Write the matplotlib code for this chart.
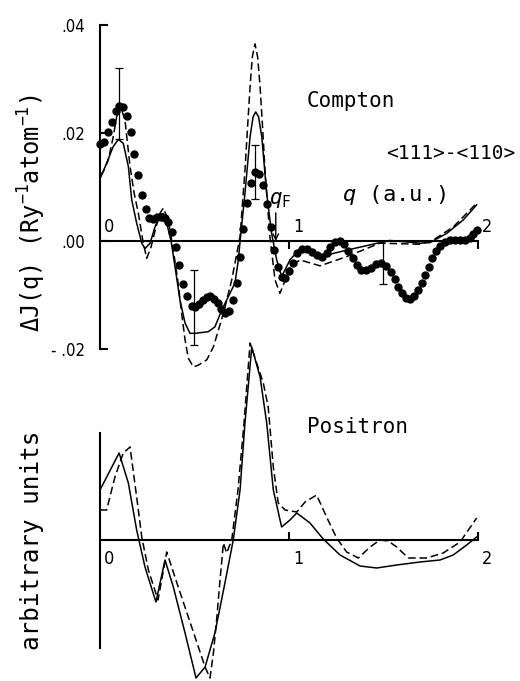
import numpy as np
import matplotlib
matplotlib.use("Agg")
import matplotlib.pyplot as plt
from matplotlib import font_manager

# Compton profile anisotropy <111>-<110>, units 1e-3 Ry^-1 atom^-1
dot_q = [0.000, 0.021, 0.041, 0.062, 0.083, 0.101, 0.123, 0.141, 0.162, 0.181,
         0.199, 0.221, 0.242, 0.261, 0.282, 0.303, 0.324, 0.346, 0.361, 0.379,
         0.401, 0.420, 0.441, 0.462, 0.485, 0.503, 0.524, 0.543, 0.565, 0.582,
         0.603, 0.623, 0.640, 0.661, 0.683, 0.702, 0.723, 0.741, 0.758, 0.776,
         0.797, 0.820, 0.841, 0.864, 0.882, 0.905, 0.922, 0.943, 0.961, 0.979,
         1.000, 1.021, 1.042, 1.069, 1.095, 1.122, 1.148, 1.175, 1.201, 1.217,
         1.243, 1.270, 1.291, 1.312, 1.339, 1.360, 1.381, 1.407, 1.434, 1.460,
         1.487, 1.513, 1.540, 1.561, 1.577, 1.598, 1.619, 1.640, 1.661, 1.683,
         1.704, 1.720, 1.741, 1.757, 1.778, 1.799, 1.825, 1.852, 1.878, 1.905,
         1.931, 1.958, 1.974, 1.995]
dot_dj = [18.0, 18.4, 20.1, 22.1, 24.1, 25.0, 24.9, 23.1, 20.1, 16.2,
          12.2, 8.5, 5.9, 4.2, 4.0, 4.4, 4.5, 4.2, 3.6, 1.7,
          -1.2, -4.5, -7.9, -10.2, -12.0, -12.2, -11.7, -10.9, -10.3, -10.1,
          -10.7, -11.5, -12.6, -13.4, -13.0, -10.9, -7.7, -2.9, 2.2, 7.0,
          10.7, 12.8, 12.4, 10.4, 6.9, 2.6, -1.7, -4.8, -6.6, -6.9,
          -5.6, -4.1, -2.2, -1.5, -1.5, -2.0, -2.6, -3.0, -2.2, -1.1,
          -0.2, 0.0, -0.6, -1.9, -3.1, -4.4, -5.4, -5.4, -5.0, -4.3,
          -4.1, -4.6, -5.7, -7.0, -8.5, -9.6, -10.6, -10.7, -10.2, -9.1,
          -7.8, -6.3, -4.8, -3.1, -1.9, -0.9, -0.2, 0.2, 0.2, 0.2,
          0.2, 0.6, 1.3, 2.0]

eb_q = [0.101, 0.499, 0.820, 1.499]
eb_dj = [25.4, -12.3, 12.8, -4.0]
eb_err = [6.6, 7.0, 5.0, 4.0]

sol_q = [0.000, 0.035, 0.070, 0.097, 0.123, 0.150, 0.168, 0.194, 0.221, 0.238,
         0.265, 0.291, 0.317, 0.335, 0.353, 0.376, 0.397, 0.423, 0.450, 0.476,
         0.503, 0.573, 0.608, 0.644, 0.679, 0.714, 0.732, 0.741, 0.767, 0.794,
         0.810, 0.824, 0.839, 0.856, 0.882, 0.908, 0.935, 0.961, 1.005, 1.058,
         1.164, 1.305, 1.481, 1.534, 1.693, 1.746, 1.834, 1.922, 1.993]
sol_dj = [11.5, 14.4, 17.5, 18.8, 18.1, 13.8, 7.6, 3.3, -0.4, -1.4,
          -0.4, 2.6, 4.8, 5.1, 3.3, 0.0, -4.8, -10.9, -15.2, -17.1,
          -17.1, -16.8, -15.9, -12.8, -10.3, -7.8, -3.5, -0.1, 8.8, 19.3,
          23.0, 23.9, 23.0, 19.3, 8.8, 1.4, -3.5, -6.6, -3.5, -1.4,
          -2.9, -1.7, -0.3, 0.1, -0.4, -0.3, 1.4, 3.9, 6.7]

das_q = [0.000, 0.017, 0.044, 0.070, 0.088, 0.106, 0.132, 0.159, 0.181, 0.203,
         0.226, 0.247, 0.270, 0.295, 0.317, 0.335, 0.361, 0.388, 0.411, 0.432,
         0.450, 0.467, 0.494, 0.520, 0.565, 0.600, 0.653, 0.697, 0.741, 0.767,
         0.781, 0.794, 0.806, 0.820, 0.834, 0.847, 0.861, 0.873, 0.899, 0.926,
         0.952, 0.988, 1.005, 1.058, 1.164, 1.305, 1.481, 1.693, 1.764, 1.869,
         1.993]
das_dj = [12.2, 12.8, 15.0, 19.3, 23.0, 25.2, 22.4, 13.8, 8.8, 5.1,
          0.2, -3.2, -1.1, 2.4, 5.1, 6.1, 3.9, -1.7, -7.2, -13.4,
          -18.3, -21.7, -23.3, -23.0, -22.0, -19.6, -13.4, -7.2, 0.8, 13.1,
          21.2, 28.6, 34.1, 36.5, 34.1, 28.6, 20.6, 13.1, 0.8, -7.2,
          -9.7, -6.6, -4.8, -3.5, -4.6, -2.9, -0.4, -0.6, 0.2, 2.6,
          7.0]

# positron annihilation anisotropy, arbitrary units
pos_sol_q = [0.000, 0.101, 0.150, 0.194, 0.238, 0.296, 0.344, 0.388, 0.450, 0.508,
             0.556, 0.608, 0.661, 0.705, 0.741, 0.767, 0.803, 0.847, 0.882, 0.917,
             0.961, 1.005, 1.041, 1.111, 1.181, 1.270, 1.376, 1.464, 1.570, 1.693,
             1.799, 1.869, 1.940, 1.993]
pos_sol = [0.50, 0.87, 0.57, 0.10, -0.27, -0.62, -0.20, -0.47, -0.93, -1.38,
           -1.27, -0.93, -0.43, 0.00, 0.50, 1.17, 1.93, 1.63, 1.17, 0.50,
           0.13, 0.20, 0.27, 0.17, 0.01, -0.15, -0.26, -0.28, -0.25, -0.22,
           -0.20, -0.15, -0.05, 0.03]

pos_das_q = [0.000, 0.035, 0.079, 0.123, 0.159, 0.194, 0.221, 0.256, 0.307, 0.353,
             0.414, 0.485, 0.556, 0.582, 0.600, 0.617, 0.635, 0.653, 0.670, 0.697,
             0.730, 0.762, 0.794, 0.864, 0.890, 0.917, 0.943, 0.979, 1.041, 1.085,
             1.146, 1.199, 1.252, 1.305, 1.367, 1.429, 1.481, 1.525, 1.570, 1.631,
             1.728, 1.816, 1.905, 1.993]
pos_das = [0.30, 0.30, 0.63, 0.87, 0.93, 0.43, 0.03, -0.30, -0.60, -0.12,
           -0.47, -0.87, -1.27, -1.38, -1.13, -0.80, -0.40, -0.03, -0.13, 0.00,
           0.50, 1.17, 1.97, 1.57, 1.33, 0.73, 0.37, 0.30, 0.28, 0.38,
           0.45, 0.23, 0.02, -0.12, -0.18, -0.07, 0.00, -0.01, -0.07, -0.18,
           -0.18, -0.13, -0.02, 0.22]

q_fermi = 0.93
x_labels = ["0", "1", "2"]
y_ticks = [-0.02, 0.0, 0.02, 0.04]
y_labels = ["- .02", ".00", ".02", ".04"]

names = {f.name for f in font_manager.fontManager.ttflist}
narrow = "Liberation Sans Narrow" if "Liberation Sans Narrow" in names else "DejaVu Sans"
mono = "DejaVu Sans Mono"
plt.rcParams["font.family"] = [narrow, "DejaVu Sans"]
plt.rcParams["font.stretch"] = "condensed"
plt.rcParams["mathtext.fontset"] = "custom"
plt.rcParams["mathtext.rm"] = mono
plt.rcParams["mathtext.it"] = mono + ":italic"

W, H = 520, 681
fig = plt.figure(figsize=(W / 100, H / 100), dpi=100)
ax1 = fig.add_axes([0, 1 - 390 / H, 1, 390 / H])
ax2 = fig.add_axes([0, 0, 1, 291 / H])

for ax in (ax1, ax2):
    ax.patch.set_visible(False)
    ax.set_xlim(-100 / 189, 420 / 189)
    ax.spines["top"].set_visible(False)
    ax.spines["right"].set_visible(False)
    ax.spines["left"].set_position(("data", 0))
    ax.spines["bottom"].set_position(("data", 0))
    ax.spines["bottom"].set_bounds(0, 2)
    for s in ("left", "bottom"):
        ax.spines[s].set_linewidth(1.5)

ax1.set_ylim((241 - 390) / 5400, 241 / 5400)
ax2.set_ylim(-1.41, 1.5)
ax1.spines["left"].set_bounds(-0.02, 0.04)
ax2.spines["left"].set_bounds(-1.08, 1.07)

ax1.set_yticks(y_ticks)
ax1.set_yticklabels(y_labels)
ax1.tick_params(axis="y", direction="in", length=6, width=1.5, pad=11, labelsize=12)
ax1.set_xticks([1, 2])
ax1.set_xticklabels([])
ax1.tick_params(axis="x", direction="out", length=6, width=1.5)
ax2.set_yticks([])
ax2.set_xticks([1, 2])
ax2.set_xticklabels([])
ax2.tick_params(axis="x", direction="in", length=6, width=1.5)

for i, lab in enumerate(x_labels):
    ax1.annotate(lab, xy=(i, 0), xytext=(6.8, 10), textcoords="offset points",
                 ha="center", va="center", fontsize=13)
    ax2.annotate(lab, xy=(i, 0), xytext=(6.8, -13.5), textcoords="offset points",
                 ha="center", va="center", fontsize=13)

dashes = (0, (5, 2.5))
ax1.plot(sol_q, np.array(sol_dj) * 1e-3, color="k", lw=1.1, clip_on=False)
ax1.plot(das_q, np.array(das_dj) * 1e-3, color="k", lw=1.1, ls=dashes, clip_on=False)
ax1.plot(dot_q, np.array(dot_dj) * 1e-3, "o", color="k", ms=5, clip_on=False)
ax1.errorbar(eb_q, np.array(eb_dj) * 1e-3, yerr=np.array(eb_err) * 1e-3, fmt="none",
             ecolor="k", elinewidth=0.9, capsize=3, capthick=0.9, clip_on=False)

ax2.plot(pos_sol_q, pos_sol, color="k", lw=1.1, clip_on=False)
ax2.plot(pos_das_q, pos_das, color="k", lw=1.1, ls=dashes, clip_on=False)

ax1.annotate("", xy=(q_fermi, 0), xytext=(q_fermi, 0.0052),
             arrowprops=dict(arrowstyle="->", lw=1.0, color="k",
                             shrinkA=0, shrinkB=0, mutation_scale=10))


def fx(x):
    return x / W


def fy(y):
    return 1 - y / H


fig.text(fx(307), fy(107), "Compton", family=mono, fontsize=15, va="baseline")
fig.text(fx(386), fy(159), "<111>-<110>", family=mono, fontsize=14, va="baseline")
fig.text(fx(342), fy(201), "$q$ (a.u.)", family=mono, fontsize=16, va="baseline")
fig.text(fx(269), fy(204), r"$q_\mathrm{F}$", family=mono, fontsize=15, va="baseline")
fig.text(fx(307), fy(433), "Positron", family=mono, fontsize=15, va="baseline")
fig.text(fx(32), fy(213), "ΔJ(q) (Ry$^{-1}$atom$^{-1}$)", family=mono, fontsize=17,
         rotation=90, ha="center", va="center")
fig.text(fx(32), fy(540), "arbitrary units", family=mono, fontsize=17.5,
         rotation=90, ha="center", va="center")

fig.savefig("out.png", dpi=100)
